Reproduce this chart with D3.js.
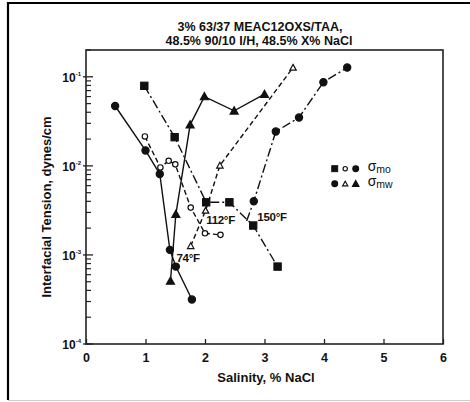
<!DOCTYPE html>
<html>
<head>
<meta charset="utf-8">
<script src="https://cdn.jsdelivr.net/npm/d3@7"></script>
<style>
  body { margin: 0; background: #fff; }
  text { font-family: "Liberation Sans", Arial, sans-serif; font-weight: bold; fill: #111; }
</style>
</head>
<body>
<div id="chart"></div>
<script>
// salinity (% NaCl) and interfacial tension (dynes/cm)
var mo74X = [0.49, 1.0, 1.24, 1.41, 1.51, 1.78];
var mo74Y = [0.047, 0.0149, 0.0081, 0.00114, 0.00074, 0.000316];

var mw74X = [1.42, 1.51, 1.75, 1.99, 2.49, 3.0];
var mw74Y = [0.00051, 0.00286, 0.0289, 0.060, 0.0415, 0.0638];

var mo112X = [0.99, 1.25, 1.39, 1.50, 1.76, 2.0, 2.26];
var mo112Y = [0.0214, 0.0096, 0.0114, 0.0104, 0.0034, 0.00175, 0.00168];

var mw112X = [1.76, 2.01, 2.25, 3.48];
var mw112Y = [0.00126, 0.00315, 0.0101, 0.127];

var mo150X = [0.98, 1.49, 2.02, 2.41, 2.81, 3.22];
var mo150Y = [0.0792, 0.021, 0.0039, 0.0039, 0.00214, 0.00074];

// first point is where the line leaves the sigma-mo curve (no marker)
var mw150X = [2.70, 2.82, 3.19, 3.58, 3.99, 4.39];
var mw150Y = [0.0024, 0.0040, 0.0243, 0.0349, 0.087, 0.127];

var xTicks = [0, 1, 2, 3, 4, 5, 6];
var yTicks = [1e-1, 1e-2, 1e-3, 1e-4];
var yTickExp = ["-1", "-2", "-3", "-4"];

var series = [
  { x: mo74X, y: mo74Y, mark: "circle", fill: true, dash: null, skip: 0 },
  { x: mw74X, y: mw74Y, mark: "triangle", fill: true, dash: null, skip: 0 },
  { x: mo112X, y: mo112Y, mark: "circle", fill: false, dash: "5,3", skip: 0 },
  { x: mw112X, y: mw112Y, mark: "triangle", fill: false, dash: "5,3", skip: 0 },
  { x: mo150X, y: mo150Y, mark: "square", fill: true, dash: "9,3,2,3", skip: 0 },
  { x: mw150X, y: mw150Y, mark: "circle", fill: true, dash: "9,3,2,3", skip: 1 }
];

var width = 470, height = 402;
var margin = { top: 50, right: 27, bottom: 58, left: 86 };
var chartWidth = width - margin.left - margin.right;
var chartHeight = height - margin.top - margin.bottom;

var svg = d3.select("#chart").append("svg")
  .attr("width", width)
  .attr("height", height);

// outer frame: left and top dark, bottom faint
svg.append("line").attr("x1", 8).attr("y1", 2).attr("x2", 8).attr("y2", 400)
  .attr("stroke", "#000").attr("stroke-width", 2.2);
svg.append("line").attr("x1", 7).attr("y1", 3).attr("x2", 470).attr("y2", 3)
  .attr("stroke", "#000").attr("stroke-width", 2);
svg.append("line").attr("x1", 8).attr("y1", 400.5).attr("x2", 470).attr("y2", 400.5)
  .attr("stroke", "#ccc").attr("stroke-width", 1);

var chartGroup = svg.append("g")
  .attr("transform", `translate(${margin.left}, ${margin.top})`);

var x = d3.scaleLinear().domain([0, 6]).range([0, chartWidth]);
var y = d3.scaleLog().domain([1e-4, 0.2]).range([chartHeight, 0]);

// plot box
chartGroup.append("rect")
  .attr("width", chartWidth).attr("height", chartHeight)
  .attr("fill", "none").attr("stroke", "#222").attr("stroke-width", 1.6);

// x axis, ticks pointing in
var xAxis = d3.axisBottom(x).tickValues(xTicks).tickSize(-5).tickPadding(9).tickFormat(d3.format("d"));
var gx = chartGroup.append("g")
  .attr("transform", `translate(0, ${chartHeight})`)
  .call(xAxis);
gx.select(".domain").remove();
gx.selectAll(".tick line").attr("stroke", "#222").attr("stroke-width", 1.3);
gx.selectAll(".tick text").style("font-size", "12.5px").attr("font-weight", "bold")
  .style("font-family", "'Liberation Sans', Arial, sans-serif");

// y axis: minor log ticks inside, majors longer
var minor = [];
for (var e = -4; e < -0.6; e++) {
  for (var m = 2; m <= 9; m++) {
    var v = m * Math.pow(10, e);
    if (v <= 0.2) minor.push(v);
  }
}
var gy = chartGroup.append("g");
gy.selectAll("line.minor").data(minor).enter().append("line")
  .attr("class", "minor")
  .attr("x1", 0).attr("x2", 5)
  .attr("y1", d => y(d)).attr("y2", d => y(d))
  .attr("stroke", "#222").attr("stroke-width", 1.2);
gy.selectAll("line.major").data(yTicks).enter().append("line")
  .attr("class", "major")
  .attr("x1", -3).attr("x2", 7)
  .attr("y1", d => y(d)).attr("y2", d => y(d))
  .attr("stroke", "#222").attr("stroke-width", 1.3);
var yl = gy.selectAll("text.ylab").data(yTicks).enter().append("text")
  .attr("class", "ylab")
  .attr("x", -5)
  .attr("y", d => y(d) + 5)
  .attr("text-anchor", "end")
  .style("font-size", "12px");
yl.append("tspan").text("10");
yl.append("tspan").attr("dy", -6).style("font-size", "6px").text((d, i) => yTickExp[i]);

// lines
var line = d3.line().x(d => x(d[0])).y(d => y(d[1]));
series.forEach(function(s) {
  var pts = s.x.map((v, i) => [v, s.y[i]]);
  chartGroup.append("path")
    .datum(pts)
    .attr("d", line)
    .attr("fill", "none")
    .attr("stroke", "#111")
    .attr("stroke-width", 1.4)
    .attr("stroke-dasharray", s.dash);
});

function drawMark(g, kind, filled, cx, cy, k) {
  k = k || 1;
  var fill = filled ? "#111" : "#fff";
  if (kind === "circle") {
    g.append("circle").attr("cx", cx).attr("cy", cy).attr("r", (filled ? 3.6 : 2.7) * k)
      .attr("fill", fill).attr("stroke", "#111").attr("stroke-width", 1.2);
  } else if (kind === "square") {
    var h = 3.7 * k;
    g.append("rect").attr("x", cx - h).attr("y", cy - h).attr("width", 2 * h).attr("height", 2 * h)
      .attr("fill", fill).attr("stroke", "#111").attr("stroke-width", 1);
  } else {
    var sz = (filled ? 4 : 3.2) * k;
    g.append("path")
      .attr("d", `M${cx},${cy - sz}L${cx + sz},${cy + sz * 0.8}L${cx - sz},${cy + sz * 0.8}Z`)
      .attr("fill", fill).attr("stroke", "#111").attr("stroke-width", 1.2);
  }
}

var marks = chartGroup.append("g");
series.forEach(function(s) {
  s.x.forEach(function(v, i) {
    if (i < s.skip) return;
    drawMark(marks, s.mark, s.fill, x(v), y(s.y[i]));
  });
});

// temperature labels
var tempLabels = [
  { t: "74°F", sx: 1.52, sy: 0.00075, dy: -4 },
  { t: "112°F", sx: 2.02, sy: 0.0022, dy: 0 },
  { t: "150°F", sx: 2.88, sy: 0.0024, dy: 0 }
];
tempLabels.forEach(function(l) {
  chartGroup.append("text")
    .attr("x", x(l.sx))
    .attr("y", y(l.sy) + l.dy)
    .style("font-size", "11.5px")
    .style("letter-spacing", "-0.3px")
    .text(l.t);
});

// legend
var legend = chartGroup.append("g").attr("transform", `translate(${x(4.18)}, 0)`);
var legRows = [
  { marks: [["square", true], ["circle", false], ["circle", true]], sub: "mo", ly: y(0.0093) },
  { marks: [["circle", true], ["triangle", false], ["triangle", true]], sub: "mw", ly: y(0.0063) }
];
legRows.forEach(function(r) {
  r.marks.forEach(function(mk, i) {
    drawMark(legend, mk[0], mk[1], i * 10.5, r.ly, 0.8);
  });
  var t = legend.append("text")
    .attr("x", 33)
    .attr("y", r.ly + 2)
    .style("font-weight", "normal");
  t.append("tspan").style("font-size", "14px").text("σ");
  t.append("tspan").attr("dy", 2).style("font-size", "10.5px").text(r.sub);
});

// titles
svg.append("text")
  .attr("x", 260).attr("y", 31)
  .attr("text-anchor", "middle")
  .style("font-size", "12.5px")
  .text("3% 63/37 MEAC12OXS/TAA,");
svg.append("text")
  .attr("x", 259).attr("y", 45)
  .attr("text-anchor", "middle")
  .style("font-size", "12.5px")
  .text("48.5% 90/10 I/H, 48.5% X% NaCl");

svg.append("text")
  .attr("transform", `translate(51, ${margin.top + chartHeight / 2 + 10}) rotate(-90)`)
  .attr("text-anchor", "middle")
  .style("font-size", "13px")
  .text("Interfacial Tension, dynes/cm");

svg.append("text")
  .attr("x", 266).attr("y", 382)
  .attr("text-anchor", "middle")
  .style("font-size", "13px")
  .text("Salinity, % NaCl");
</script>
</body>
</html>
